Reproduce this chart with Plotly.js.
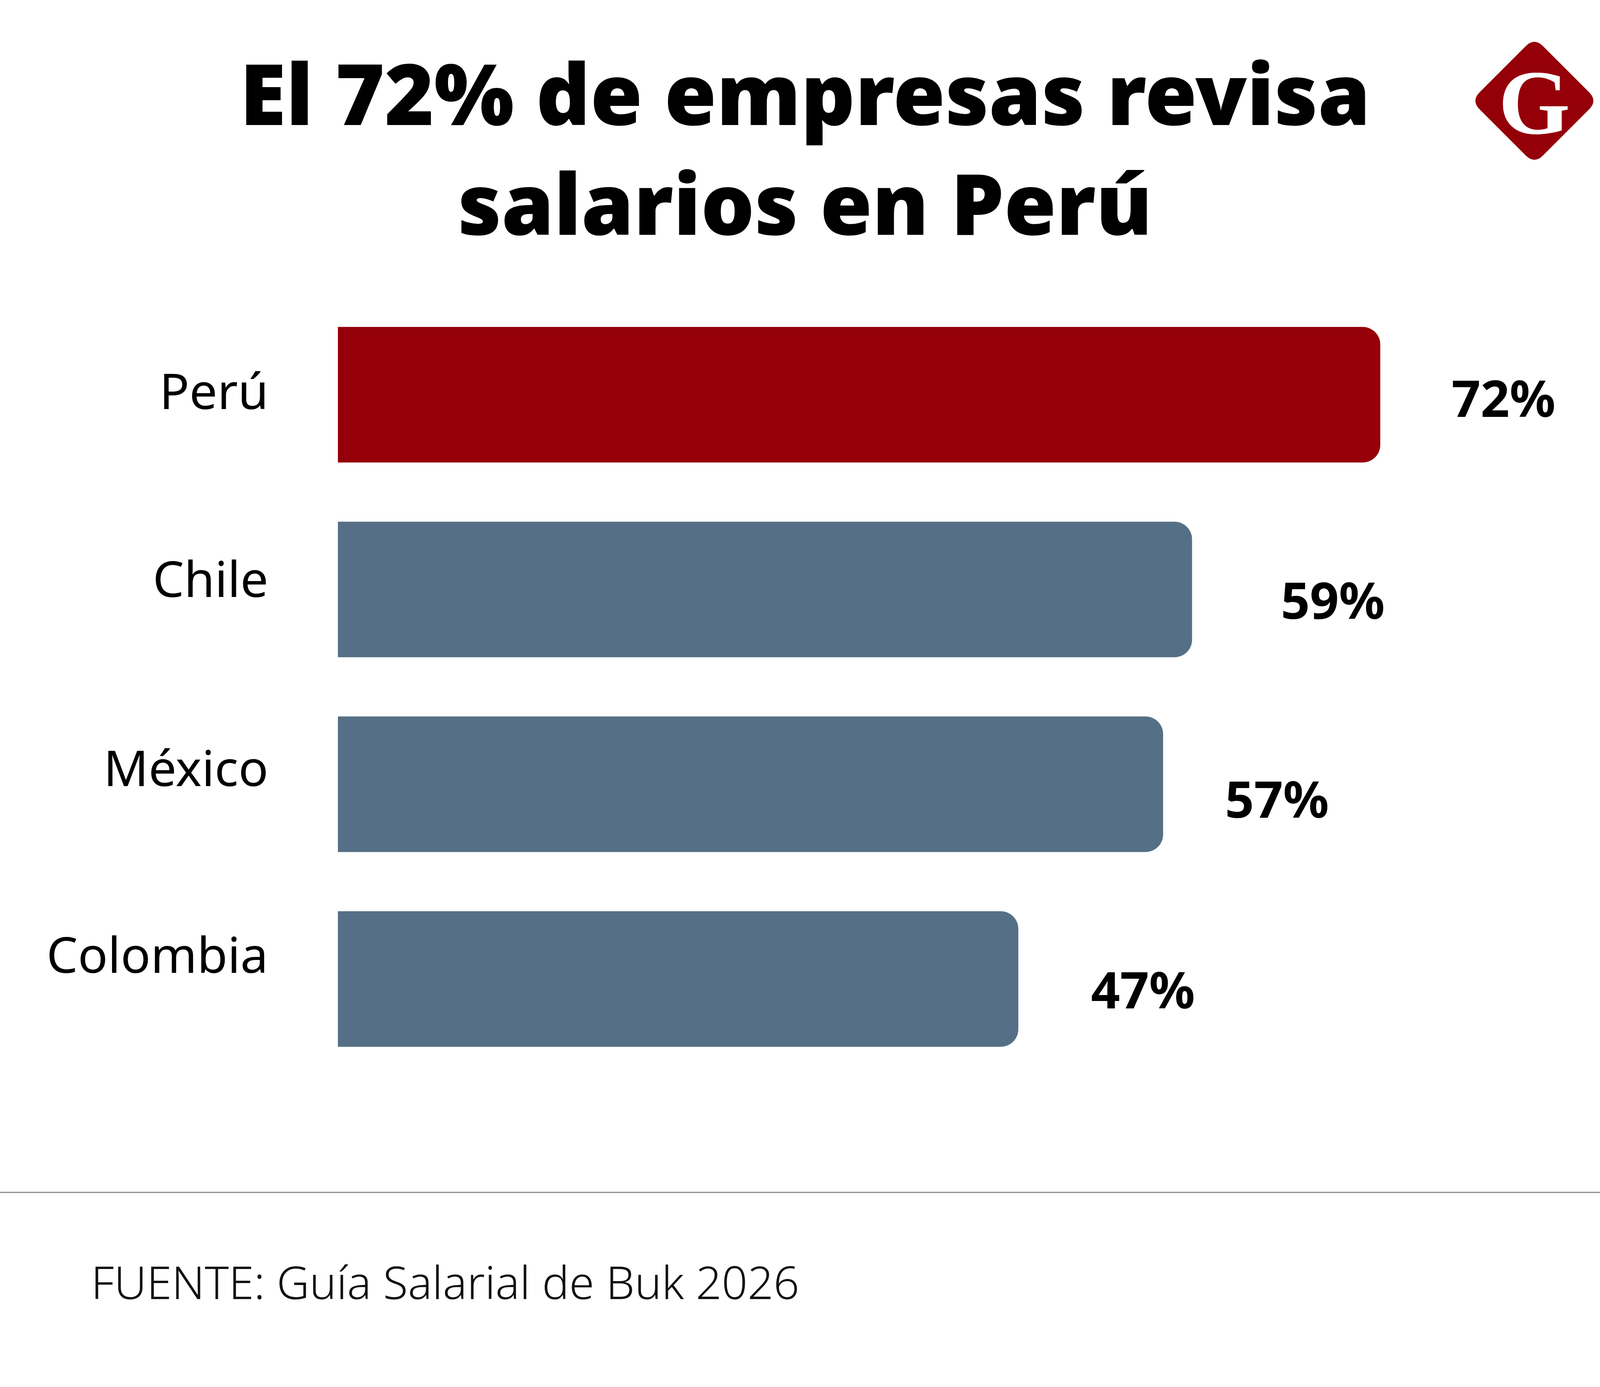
<!DOCTYPE html>
<html>
<head>
<meta charset="utf-8">
<script src="https://cdn.plot.ly/plotly-3.0.1.min.js"></script>
<style>html,body{margin:0;padding:0;background:#fff;}#chart{width:4150px;height:3550px;}</style>
</head>
<body>
<div id="chart"></div>
<script>
// ---- data ----
const countries = ["Perú", "Chile", "México", "Colombia"];
const values = [72, 59, 57, 47];
const valueLabels = ["72%", "59%", "57%", "47%"];
const barColors = ["#950008", "#557086", "#557086", "#557086"];
const titleText = "El 72% de empresas revisa<br>salarios en Perú";
const sourceText = "FUENTE: Guía Salarial de Buk 2026";

// ---- layout geometry (pixels) ----
const W = 4150, H = 3550;
const M = {l: 865, r: 320, t: 761, b: 795};
const PW = W - M.l - M.r, PH = H - M.t - M.b;
const px = x => (x - M.l) / PW;
const py = y => (H - M.b - y) / PH;

// per-label text offsets (style)
const catShiftY = [13, 30, 45, 65];
const valShiftX = [180, 225, 156, 184];
const valShiftY = [-6, -25, -35, -25];

const annotations = [];
countries.forEach((c, i) => {
  annotations.push({
    x: 0, y: c, xref: 'x', yref: 'y', text: c, showarrow: false,
    xanchor: 'right', yanchor: 'middle', xshift: -176, yshift: catShiftY[i],
    font: {family: 'Noto Sans', size: 127, color: '#000'}
  });
  annotations.push({
    x: values[i], y: c, xref: 'x', yref: 'y', text: valueLabels[i], showarrow: false,
    xanchor: 'left', yanchor: 'middle', xshift: valShiftX[i], yshift: valShiftY[i],
    font: {family: 'Noto Sans', size: 130, color: '#000', weight: 700}
  });
});
// source
annotations.push({
  x: px(231), y: py(3280), xref: 'paper', yref: 'paper', text: sourceText, showarrow: false,
  xanchor: 'left', yanchor: 'middle',
  font: {family: 'Noto Sans', size: 116, color: '#111', weight: 300}
});
// logo letter
annotations.push({
  x: px(3928), y: py(262), xref: 'paper', yref: 'paper', text: 'G', showarrow: false,
  xanchor: 'center', yanchor: 'middle',
  font: {family: 'Liberation Serif', size: 236, color: '#fff', weight: 700}
});

// logo diamond path
const cx = 3928, cy = 258, R = 162, d = 22;
const P = (x, y) => px(x).toFixed(5) + ',' + py(y).toFixed(5);
const diamond =
  'M' + P(cx + d, cy - R + d) +
  ' L' + P(cx + R - d, cy - d) + ' Q' + P(cx + R, cy) + ' ' + P(cx + R - d, cy + d) +
  ' L' + P(cx + d, cy + R - d) + ' Q' + P(cx, cy + R) + ' ' + P(cx - d, cy + R - d) +
  ' L' + P(cx - R + d, cy + d) + ' Q' + P(cx - R, cy) + ' ' + P(cx - R + d, cy - d) +
  ' L' + P(cx - d, cy - R + d) + ' Q' + P(cx, cy - R) + ' ' + P(cx + d, cy - R + d) + ' Z';

const shapes = [
  {type: 'path', xref: 'paper', yref: 'paper', path: diamond, fillcolor: '#950008', line: {width: 0}, layer: 'below'},
  {type: 'line', xref: 'paper', yref: 'paper', x0: px(0), x1: px(W), y0: py(3052), y1: py(3052),
   line: {color: '#8a8a8a', width: 3}}
];

const trace = {
  type: 'bar', orientation: 'h',
  x: values, y: countries,
  marker: {color: barColors, cornerradius: 45, line: {width: 0}},
  hoverinfo: 'skip'
};

const layout = {
  width: W, height: H,
  margin: M,
  paper_bgcolor: '#fff', plot_bgcolor: '#fff',
  showlegend: false,
  bargap: 0.304,
  title: {
    text: titleText,
    x: 2061 / W, xanchor: 'center', xref: 'container',
    y: 1 - 320 / H, yanchor: 'top', yref: 'container',
    font: {family: 'Noto Sans', size: 216, color: '#000', weight: 900}
  },
  xaxis: {range: [0, 80], visible: false, fixedrange: true},
  yaxis: {type: 'category', categoryorder: 'array', categoryarray: countries,
          autorange: 'reversed', visible: false, fixedrange: true},
  annotations: annotations,
  shapes: shapes
};

Plotly.newPlot('chart', [trace], layout, {staticPlot: true, displayModeBar: false});
</script>
</body>
</html>
